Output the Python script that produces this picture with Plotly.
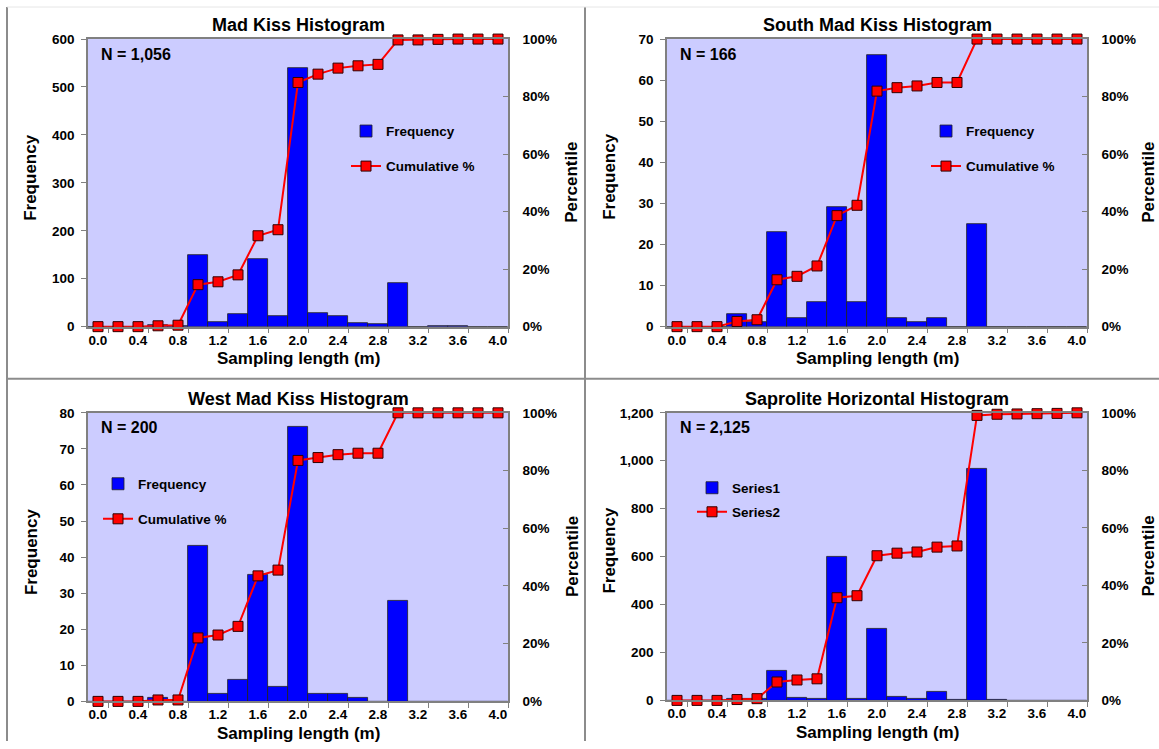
import plotly.graph_objects as go

# ---------------- data ----------------
x_vals = [0.0, 0.2, 0.4, 0.6, 0.8, 1.0, 1.2, 1.4, 1.6, 1.8, 2.0,
          2.2, 2.4, 2.6, 2.8, 3.0, 3.2, 3.4, 3.6, 3.8, 4.0]
x_tick_vals = [0.0, 0.4, 0.8, 1.2, 1.6, 2.0, 2.4, 2.8, 3.2, 3.6, 4.0]
x_tick_text = ["0.0", "0.4", "0.8", "1.2", "1.6", "2.0", "2.4", "2.8", "3.2", "3.6", "4.0"]

titles = ["Mad Kiss Histogram", "South Mad Kiss Histogram",
          "West Mad Kiss Histogram", "Saprolite Horizontal Histogram"]
n_labels = ["N = 1,056", "N = 166", "N = 200", "N = 2,125"]
bar_names = ["Frequency", "Frequency", "Frequency", "Series1"]
line_names = ["Cumulative %", "Cumulative %", "Cumulative %", "Series2"]

freq_mad_kiss = [0, 0, 0, 3, 2, 150, 10, 26, 142, 23, 540, 29, 22, 7, 5, 90, 0, 2, 1, 0, 0]
cum_mad_kiss = [0, 0, 0, 0.3, 0.5, 14.6, 15.6, 18.0, 31.6, 33.7, 84.9, 87.8, 89.9, 90.7, 91.2,
                99.7, 99.7, 99.9, 100, 100, 100]

freq_south = [0, 0, 0, 3, 1, 23, 2, 6, 29, 6, 66, 2, 1, 2, 0, 25, 0, 0, 0, 0, 0]
cum_south = [0, 0, 0, 1.8, 2.4, 16.3, 17.5, 21.1, 38.6, 42.2, 81.9, 83.1, 83.7, 84.9, 84.9,
             100, 100, 100, 100, 100, 100]

freq_west = [0, 0, 0, 1, 0, 43, 2, 6, 35, 4, 76, 2, 2, 1, 0, 28, 0, 0, 0, 0, 0]
cum_west = [0, 0, 0, 0.5, 0.5, 22.0, 23.0, 26.0, 43.5, 45.5, 83.5, 84.5, 85.5, 86.0, 86.0,
            100, 100, 100, 100, 100, 100]

freq_saprolite = [0, 0, 0, 6, 5, 125, 11, 7, 600, 8, 300, 17, 7, 36, 4, 966, 3, 0, 0, 0, 0]
cum_saprolite = [0, 0, 0, 0.3, 0.6, 6.4, 7.1, 7.5, 35.7, 36.4, 50.3, 51.2, 51.6, 53.3, 53.7,
                 99.1, 99.5, 99.6, 99.7, 99.8, 100]

freqs = [freq_mad_kiss, freq_south, freq_west, freq_saprolite]
cums = [cum_mad_kiss, cum_south, cum_west, cum_saprolite]
y_max = [600, 70, 80, 1200]
y_dtick = [100, 10, 10, 200]

# ---------------- layout geometry (target picture pixels) ----------------
W, H = 1159, 749
boxes = [(88, 508, 39, 326), (667, 1087, 39, 326), (88, 508, 412, 700), (667, 1087, 412, 699)]
legend_pos = [((386, 131), (386, 166)), ((966, 131), (966, 166)),
              ((138, 483), (138, 518)), ((732, 487), (732, 511))]

FONT = "Liberation Sans, Arial, sans-serif"
TICK = 13.5

# measured vertical mapping of the photographed page (picture_y = 0.978 * fig_y + 7)
V_SCALE, V_OFF = 0.978, 7.0


def fx(p):
    return p / W


def fy(p):
    return 1 - ((p - V_OFF) / V_SCALE) / H


fig = go.Figure()
layout = dict(
    width=W, height=H,
    margin=dict(l=0, r=0, t=0, b=0),
    paper_bgcolor="white",
    plot_bgcolor="#CCCCFF",
    font=dict(family=FONT, size=13, color="black"),
    bargap=0,
    showlegend=True,
    hovermode=False,
)
annotations = []

for i in range(4):
    left, right, top, bottom = boxes[i]
    xa = "x" if i == 0 else f"x{i+1}"
    ya = "y" if i == 0 else f"y{2*i+1}"
    yb = f"y{2*i+2}"
    xkey = "xaxis" if i == 0 else f"xaxis{i+1}"
    yakey = "yaxis" if i == 0 else f"yaxis{2*i+1}"
    ybkey = f"yaxis{2*i+2}"
    lg1 = "legend" if i == 0 else f"legend{2*i+1}"
    lg2 = f"legend{2*i+2}"

    fig.add_trace(go.Bar(
        x=x_vals, y=freqs[i], width=0.2, name=bar_names[i],
        marker=dict(color="#0000FF", line=dict(color="#222222", width=0.8)),
        xaxis=xa, yaxis=ya, legend=lg1,
    ))
    fig.add_trace(go.Scatter(
        x=x_vals, y=cums[i], name=line_names[i], mode="lines+markers",
        line=dict(color="#FF0000", width=2),
        marker=dict(symbol="square", size=10, color="#FF0000",
                    line=dict(color="#330000", width=1)),
        cliponaxis=False, xaxis=xa, yaxis=yb, legend=lg2,
    ))

    layout[xkey] = dict(
        domain=[fx(left), fx(right)], range=[-0.1, 4.1], anchor=ya,
        tickmode="array", tickvals=x_tick_vals, ticktext=x_tick_text,
        ticks="", showgrid=False, zeroline=False,
        showline=True, mirror=True, linecolor="#808080", linewidth=1.5,
        tickfont=dict(family=FONT, size=TICK, weight="bold", color="black"),
        minor=dict(ticks="outside", tick0=0.1, dtick=0.4, ticklen=5,
                   tickcolor="#808080", tickwidth=1, showgrid=False),
        fixedrange=True,
    )
    layout[yakey] = dict(
        domain=[fy(bottom), fy(top)], range=[0, y_max[i]], dtick=y_dtick[i],
        anchor=xa, tickformat=",d", ticks="outside", ticklen=5,
        tickcolor="#808080", showgrid=False, zeroline=False,
        showline=True, linecolor="#808080", linewidth=1.5,
        tickfont=dict(family=FONT, size=TICK, weight="bold", color="black"),
        ticklabelstandoff=4, fixedrange=True,
    )
    layout[ybkey] = dict(
        domain=[fy(bottom), fy(top)], range=[0, 100], dtick=20,
        anchor=xa, overlaying=ya, side="right", ticksuffix="%",
        ticks="inside", ticklen=5, tickcolor="#808080",
        showgrid=False, zeroline=False,
        showline=True, linecolor="#808080", linewidth=1.5,
        tickfont=dict(family=FONT, size=TICK, weight="bold", color="black"),
        ticklabelstandoff=10, fixedrange=True,
    )

    (l1x, l1y), (l2x, l2y) = legend_pos[i]
    for key, (lx, ly) in ((lg1, (l1x, l1y)), (lg2, (l2x, l2y))):
        layout[key] = dict(
            x=fx(lx - 40), y=fy(ly), xanchor="left", yanchor="middle",
            bgcolor="rgba(0,0,0,0)", borderwidth=0,
            font=dict(family=FONT, size=13.5, weight="bold", color="black"),
        )

    cx = (left + right) / 2
    cy = (top + bottom) / 2
    annotations.append(dict(text=titles[i], x=fx(cx), y=fy(top - 14), xref="paper", yref="paper",
                            xanchor="center", yanchor="middle", showarrow=False,
                            font=dict(family=FONT, size=18, weight="bold", color="black")))
    annotations.append(dict(text=n_labels[i], x=fx(left + 11), y=fy(top + 15), xref="paper", yref="paper",
                            xanchor="left", yanchor="middle", showarrow=False,
                            font=dict(family=FONT, size=16, weight="bold", color="black")))
    annotations.append(dict(text="Frequency", x=fx(left - 57), y=fy(cy - 6), xref="paper", yref="paper",
                            xanchor="center", yanchor="middle", showarrow=False, textangle=-90,
                            font=dict(family=FONT, size=17, weight="bold", color="black")))
    annotations.append(dict(text="Percentile", x=fx(min(right + 64, 1149)), y=fy(cy), xref="paper", yref="paper",
                            xanchor="center", yanchor="middle", showarrow=False, textangle=-90,
                            font=dict(family=FONT, size=17, weight="bold", color="black")))
    annotations.append(dict(text="Sampling length (m)", x=fx(cx), y=fy(bottom + 32), xref="paper", yref="paper",
                            xanchor="center", yanchor="middle", showarrow=False,
                            font=dict(family=FONT, size=17, weight="bold", color="black")))

layout["annotations"] = annotations
layout["shapes"] = [
    dict(type="line", xref="paper", yref="paper", x0=fx(7), x1=fx(7), y0=0, y1=fy(7),
         line=dict(color="#8c8c8c", width=2)),
    dict(type="line", xref="paper", yref="paper", x0=fx(585), x1=fx(585), y0=0, y1=fy(7),
         line=dict(color="#8c8c8c", width=2)),
    dict(type="line", xref="paper", yref="paper", x0=fx(7), x1=1, y0=fy(378), y1=fy(378),
         line=dict(color="#8c8c8c", width=2)),
    dict(type="line", xref="paper", yref="paper", x0=fx(7), x1=1, y0=fy(7), y1=fy(7),
         line=dict(color="#e6e6e6", width=1)),
]

fig.update_layout(**layout)
# remove the default page margin so the figure fills the window exactly
fig.write_html("out.html", config={"displayModeBar": False},
               post_script="document.body.style.margin='0';")
